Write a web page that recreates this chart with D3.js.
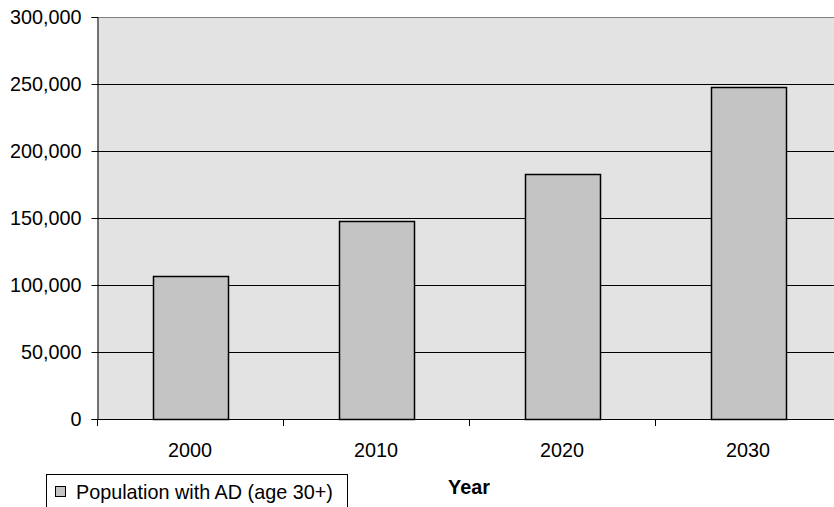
<!DOCTYPE html>
<html><head><meta charset="utf-8">
<script src="https://cdn.jsdelivr.net/npm/d3@7"></script>
<style>body{margin:0;background:#fff;}svg{display:block;font-family:"Liberation Sans",Arial,sans-serif;}</style>
</head><body>
<svg id="c" width="834" height="507"></svg>
<script>
const categories = ["2000","2010","2020","2030"];
const values = [107000, 148000, 183000, 247800];
const yTicks = [0,50000,100000,150000,200000,250000,300000];
const seriesName = "Population with AD (age 30+)";
const xTitle = "Year";

const FS = 19.8;
const svg = d3.select("#c");
const m = {left:97, top:17, right:841, bottom:419};
const x = d3.scaleBand().domain(categories).range([m.left, m.right]).paddingInner(0).paddingOuter(0);
const y = d3.scaleLinear().domain([0,300000]).range([m.bottom, m.top]);

svg.append("rect").attr("x",m.left).attr("y",m.top).attr("width",m.right-m.left).attr("height",m.bottom-m.top).attr("fill","#e3e3e3");

// gridlines
svg.append("g").selectAll("line").data(yTicks.filter(d=>d>0)).join("line")
  .attr("x1",m.left).attr("x2",m.right).attr("y1",d=>Math.round(y(d))+0.5).attr("y2",d=>Math.round(y(d))+0.5)
  .attr("stroke",d=>d===300000?"#808080":"#000").attr("stroke-width",1);

// bars
const bw = 75;
svg.append("g").selectAll("rect").data(values).join("rect")
  .attr("x",(d,i)=>Math.round(x(categories[i])+x.bandwidth()/2-bw/2)+0.5)
  .attr("y",d=>Math.round(y(d))+0.5)
  .attr("width",bw)
  .attr("height",d=>Math.round(y(0))-Math.round(y(d)))
  .attr("fill","#c4c4c4").attr("stroke","#000").attr("stroke-width",1.5);

// y axis
const ya = d3.axisLeft(y).tickValues(yTicks).tickSize(6).tickPadding(10).tickFormat(d3.format(","));
const gy = svg.append("g").attr("transform",`translate(${m.left+0.5},0)`).call(ya);
gy.select(".domain").attr("stroke","#000");
gy.selectAll("text").attr("font-size",FS).attr("fill","#000").attr("font-family","Liberation Sans, Arial, sans-serif").attr("dy","0.34em");
gy.selectAll(".tick line").attr("stroke","#000");

// x axis
const xa = d3.axisBottom(x).tickSize(0).tickPadding(0);
const gx = svg.append("g").attr("transform",`translate(0,${m.bottom+0.5})`).call(xa);
gx.select(".domain").attr("stroke","#000").attr("d",`M${m.left},0H${m.right}`);
gx.selectAll("text").attr("font-size",FS).attr("fill","#000").attr("font-family","Liberation Sans, Arial, sans-serif")
  .attr("dy",null).attr("y",37.5);
// boundary ticks
const bounds = categories.map(c=>x(c));
svg.append("g").selectAll("line").data(bounds).join("line")
  .attr("x1",d=>Math.round(d)+0.5).attr("x2",d=>Math.round(d)+0.5)
  .attr("y1",m.bottom).attr("y2",m.bottom+7).attr("stroke","#000");

// x title
svg.append("text").attr("x",(m.left+m.right)/2).attr("y",494).attr("text-anchor","middle")
  .attr("font-size",FS).attr("font-weight","bold").text(xTitle);

// legend
const lg = svg.append("g");
lg.append("rect").attr("x",46.5).attr("y",474.5).attr("width",301).attr("height",40).attr("fill","#fff").attr("stroke","#000");
lg.append("rect").attr("x",55.5).attr("y",486.5).attr("width",10).attr("height",10).attr("fill","#c4c4c4").attr("stroke","#000");
lg.append("text").attr("x",76).attr("y",499).attr("font-size",FS).text(seriesName);
</script>
</body></html>
